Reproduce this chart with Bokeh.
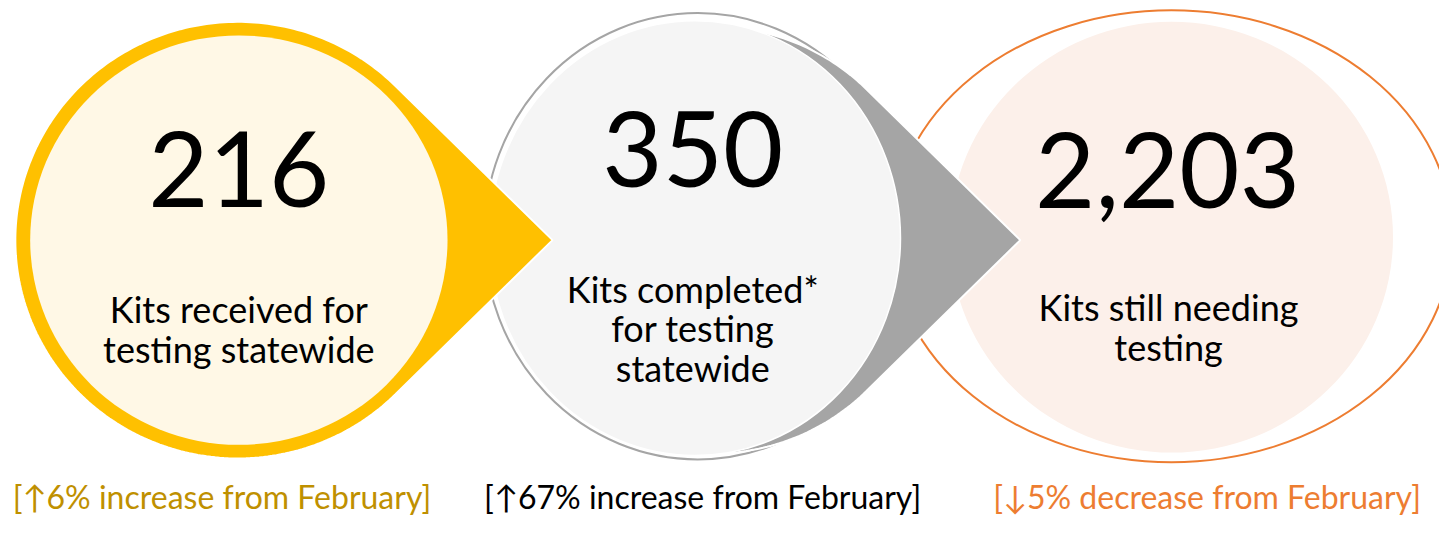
import numpy as np
from bokeh.plotting import figure
from bokeh.models import Range1d
from bokeh.embed import file_html
from bokeh.resources import INLINE
from bokeh.core.properties import value

# ---- data ----
values = ["216", "350", "2,203"]
labels = [
    ["Kits received for", "testing statewide"],
    ["Kits completed*", "for testing", "statewide"],
    ["Kits still needing", "testing"],
]
changes = [
    "[\u21916% increase from February]",
    "[\u219167% increase from February]",
    "[\u21935% decrease from February]",
]
change_colors = ["#BF9000", "#000000", "#ED7D31"]

# ---- layout (reference pixel coordinates, y measured from top) ----
W, H = 1439, 521
FONT = "Lato"


def Y(v):
    return 537 - v


p = figure(width=W, height=H, x_range=Range1d(0, 1455), y_range=Range1d(0, 537),
           output_backend="svg", toolbar_location=None, min_border=0)
p.axis.visible = False
p.grid.visible = False
p.outline_line_color = None
p.background_fill_color = "white"


def teardrop(cx, cy, r, n=240):
    t = np.linspace(np.pi / 4, 2 * np.pi - np.pi / 4, n)
    xs = list(cx + r * np.cos(t)) + [cx + r * np.sqrt(2)]
    ys = list(Y(cy) + r * np.sin(t)) + [Y(cy)]
    return xs, ys


# circle 3 (orange)
p.ellipse(x=[1184], y=[Y(243)], width=[2 * 284], height=[2 * 233],
          fill_color="white", line_color="#ED7D31", line_width=2)
p.ellipse(x=[1184], y=[Y(244)], width=[2 * 224], height=[2 * 222],
          fill_color="#FCF0EA", line_color=None)

# circle 2 (gray)
p.ellipse(x=[705], y=[Y(243)], width=[2 * 216], height=[2 * 230],
          fill_color="white", line_color="#A5A5A5", line_width=2)
xs, ys = teardrop(720, 247, 220)
p.patch(xs, ys, fill_color="#A5A5A5", line_color="white", line_width=2)
p.ellipse(x=[702], y=[Y(245)], width=[2 * 208], height=[2 * 224],
          fill_color="#F5F5F5", line_color="white", line_width=1.5)

# circle 1 (yellow)
xs, ys = teardrop(240, 247, 225)
p.patch(xs, ys, fill_color="#FFC000", line_color="white", line_width=2)
p.ellipse(x=[241], y=[Y(247)], width=[2 * 211], height=[2 * 211],
          fill_color="#FFF8E6", line_color=None)

# numbers
num_x = [241, 700, 1180]
num_y = [174, 153, 175]
p.text(x=num_x, y=[Y(v) for v in num_y], text=values, text_font=value(FONT),
       text_font_size=value("104px"), text_align="center", text_baseline="middle",
       text_color="black")

# descriptions
lab_x = [241, 700, 1181]
lab_y0 = [318, 297, 316]
step = 41
for cx, y0, lines in zip(lab_x, lab_y0, labels):
    p.text(x=[cx] * len(lines), y=[Y(y0 + i * step) for i in range(len(lines))], text=lines,
           text_font=value(FONT), text_font_size=value("36px"), text_align="center",
           text_baseline="middle", text_color="black")

# changes
chg_x = [224, 710, 1220]
p.text(x=chg_x, y=[Y(511)] * 3, text=changes, text_color=change_colors,
       text_font=value(FONT), text_font_size=value("32px"), text_align="center",
       text_baseline="middle")

open("out.html", "w").write(file_html(p, INLINE))
